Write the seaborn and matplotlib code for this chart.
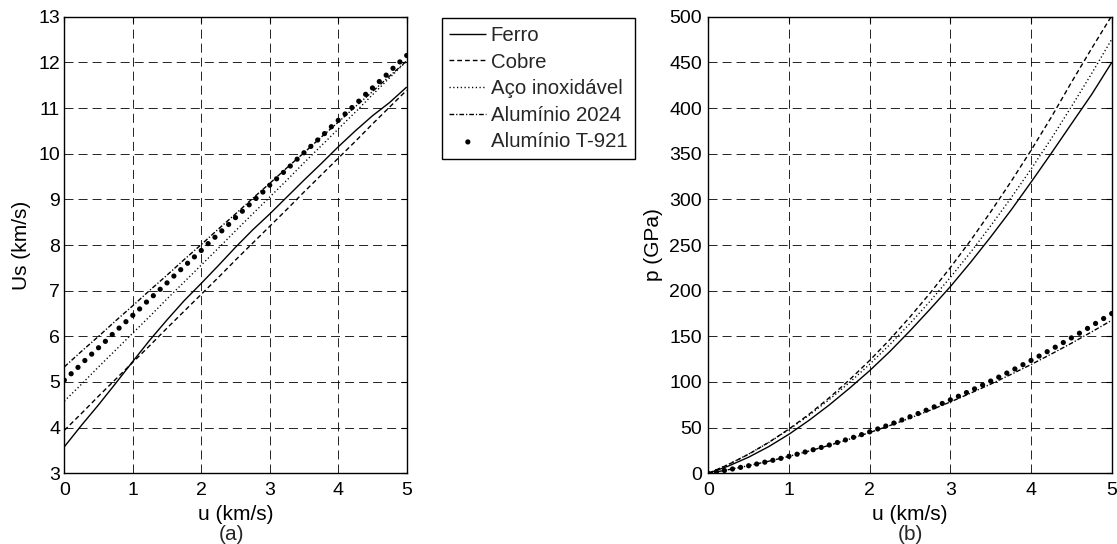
import matplotlib
matplotlib.use("Agg")
import matplotlib.pyplot as plt
import seaborn as sns

# Particle velocity grid used for the solid / dashed curves (km/s)
u_line = [0.0, 0.25, 0.5, 0.75, 1.0, 1.25, 1.5, 1.75, 2.0, 2.25, 2.5,
          2.75, 3.0, 3.25, 3.5, 3.75, 4.0, 4.25, 4.5, 4.75, 5.0]

# Particle velocity grid used for the dotted Alumínio T-921 series (km/s)
u_dot = [0.0, 0.1, 0.2, 0.3, 0.4, 0.5, 0.6, 0.7, 0.8, 0.9,
         1.0, 1.1, 1.2, 1.3, 1.4, 1.5, 1.6, 1.7, 1.8, 1.9,
         2.0, 2.1, 2.2, 2.3, 2.4, 2.5, 2.6, 2.7, 2.8, 2.9,
         3.0, 3.1, 3.2, 3.3, 3.4, 3.5, 3.6, 3.7, 3.8, 3.9,
         4.0, 4.1, 4.2, 4.3, 4.4, 4.5, 4.6, 4.7, 4.8, 4.9, 5.0]

# Shock velocity Us (km/s)
us_ferro = [3.58, 4.05, 4.50, 4.97, 5.45, 5.92, 6.36, 6.78, 7.16, 7.55, 7.95,
            8.33, 8.68, 9.05, 9.42, 9.78, 10.15, 10.50, 10.83, 11.12, 11.46]
us_cobre = [3.94, 4.31, 4.69, 5.06, 5.43, 5.80, 6.18, 6.55, 6.92, 7.29, 7.67,
            8.04, 8.41, 8.78, 9.16, 9.53, 9.90, 10.27, 10.65, 11.02, 11.39]
us_aco = [4.58, 4.95, 5.33, 5.70, 6.07, 6.44, 6.82, 7.19, 7.56, 7.93, 8.31,
          8.68, 9.05, 9.42, 9.80, 10.17, 10.54, 10.91, 11.29, 11.66, 12.03]
us_al2024 = [5.33, 5.67, 6.00, 6.34, 6.67, 7.01, 7.34, 7.68, 8.01, 8.35, 8.68,
             9.02, 9.35, 9.69, 10.02, 10.36, 10.69, 11.03, 11.36, 11.70, 12.03]
us_t921 = [5.04, 5.18, 5.32, 5.47, 5.61, 5.75, 5.89, 6.04, 6.18, 6.32,
           6.46, 6.60, 6.75, 6.89, 7.03, 7.17, 7.32, 7.46, 7.60, 7.74,
           7.88, 8.03, 8.17, 8.31, 8.45, 8.60, 8.74, 8.88, 9.02, 9.16,
           9.31, 9.45, 9.59, 9.73, 9.88, 10.02, 10.16, 10.30, 10.44, 10.59,
           10.73, 10.87, 11.01, 11.15, 11.30, 11.44, 11.58, 11.72, 11.87, 12.01, 12.15]

# Shock pressure p (GPa)
p_ferro = [0.0, 7.95, 17.66, 29.26, 42.78, 58.09, 74.89, 93.14, 112.41, 133.35, 156.02,
           179.82, 204.41, 230.89, 258.82, 287.90, 318.71, 350.30, 382.57, 414.64, 449.81]
p_cobre = [0.0, 9.62, 20.94, 33.89, 48.49, 64.74, 82.78, 102.36, 123.59, 146.47, 171.23,
           197.44, 225.31, 254.82, 286.29, 319.14, 353.63, 389.77, 427.97, 465.0, 501.0]
p_aco = [0.0, 9.78, 21.05, 33.77, 47.95, 63.60, 80.82, 99.40, 119.45, 140.96, 164.12,
         188.57, 214.49, 241.86, 270.97, 301.29, 333.06, 366.30, 401.36, 437.54, 475.19]
p_al2024 = [0.0, 3.95, 8.36, 13.24, 18.58, 24.40, 30.66, 37.43, 44.62, 52.32, 60.43,
            69.08, 78.12, 87.71, 97.67, 108.20, 119.09, 130.55, 142.37, 154.77, 167.52]
p_t921 = [0.0, 1.49, 3.06, 4.73, 6.46, 8.28, 10.18, 12.18, 14.24, 16.38,
          18.60, 20.91, 23.33, 25.80, 28.34, 30.97, 33.73, 36.52, 39.40, 42.35,
          45.39, 48.57, 51.76, 55.05, 58.41, 61.92, 65.44, 69.05, 72.74, 76.50,
          80.44, 84.37, 88.38, 92.47, 96.75, 101.00, 105.34, 109.76, 114.26, 118.95,
          123.61, 128.35, 133.18, 138.08, 143.19, 148.26, 153.41, 158.64, 164.09, 169.49, 174.96]

labels = ["Ferro", "Cobre", "Aço inoxidável", "Alumínio 2024", "Alumínio T-921"]
us_ticks = list(range(3, 14))
p_ticks = list(range(0, 501, 50))
u_ticks = [0, 1, 2, 3, 4, 5]

sns.set_theme(context="paper", style="white")
plt.rcParams["font.family"] = ["Liberation Sans", "DejaVu Sans"]
plt.rcParams["lines.scale_dashes"] = False
plt.rcParams["axes.edgecolor"] = "black"

W, H = 1117, 544
fig = plt.figure(figsize=(W / 100, H / 100), dpi=100)
fig.patch.set_facecolor("white")


def frac_box(x0, x1, y_top, y_bot):
    return [x0 / W, 1 - y_bot / H, (x1 - x0) / W, (y_bot - y_top) / H]


ax_a = fig.add_axes(frac_box(64.3, 406.7, 16.7, 473.3))
ax_b = fig.add_axes(frac_box(708.3, 1111.7, 16.7, 473.3))

line_styles = [
    (0, ()),                       # solid
    (0, (3.4, 2.2)),               # dashed
    (0, (0.9, 1.8)),               # dotted
    (0, (3.4, 1.4, 0.9, 1.4)),     # dash-dot
]
TICK_FS = 14
LABEL_FS = 15


def draw(ax, ys_lines, ys_dots):
    for ys, ls, lab in zip(ys_lines, line_styles, labels[:4]):
        sns.lineplot(x=u_line, y=ys, ax=ax, color="black", linewidth=1.0,
                     estimator=None, sort=False, legend=False, label=lab)
        ax.lines[-1].set_linestyle(ls)
    sns.scatterplot(x=u_dot, y=ys_dots, ax=ax, color="black", s=14,
                    edgecolor="none", linewidth=0, legend=False, label=labels[4],
                    zorder=3)


draw(ax_a, [us_ferro, us_cobre, us_aco, us_al2024], us_t921)
draw(ax_b, [p_ferro, p_cobre, p_aco, p_al2024], p_t921)

for ax, yt, ylim, ylab, ylab_x, ypad in [
    (ax_a, us_ticks, (3, 13), "Us (km/s)", -0.097, 3.0),
    (ax_b, p_ticks, (0, 500), "p (GPa)", -0.113, 4.5),
]:
    ax.set_xlim(0, 5)
    ax.set_ylim(*ylim)
    ax.set_xticks(u_ticks)
    ax.set_yticks(yt)
    ax.grid(True, color="black", linewidth=0.6, linestyle=(0, (6.5, 3.6)))
    ax.tick_params(axis="both", direction="in", length=4, width=0.8,
                   top=True, right=True, labelsize=TICK_FS, colors="black")
    ax.tick_params(axis="x", pad=6.5)
    ax.tick_params(axis="y", pad=ypad)
    for sp in ax.spines.values():
        sp.set_visible(True)
        sp.set_color("black")
        sp.set_linewidth(1.0)
    ax.set_xlabel("u (km/s)", fontsize=LABEL_FS, labelpad=3.8, color="black")
    ax.set_ylabel(ylab, fontsize=LABEL_FS, color="black")
    ax.yaxis.set_label_coords(ylab_x, 0.5)

fig.text(231 / W, 1 - 534 / H, "(a)", ha="center", va="center", fontsize=LABEL_FS)
fig.text(910 / W, 1 - 534 / H, "(b)", ha="center", va="center", fontsize=LABEL_FS)

handles, labs = ax_a.get_legend_handles_labels()
leg = fig.legend(handles, labs, loc="upper left",
                 bbox_to_anchor=(441.7 / W, 1 - 18.3 / H),
                 fontsize=14.7, frameon=True, fancybox=False, shadow=False,
                 framealpha=1, edgecolor="black", facecolor="white",
                 handlelength=1.8, handletextpad=0.22, labelspacing=0.37,
                 borderpad=0.38, borderaxespad=0, scatterpoints=1)
leg.get_frame().set_linewidth(1.0)

fig.savefig("out.png", dpi=100, facecolor="white")
